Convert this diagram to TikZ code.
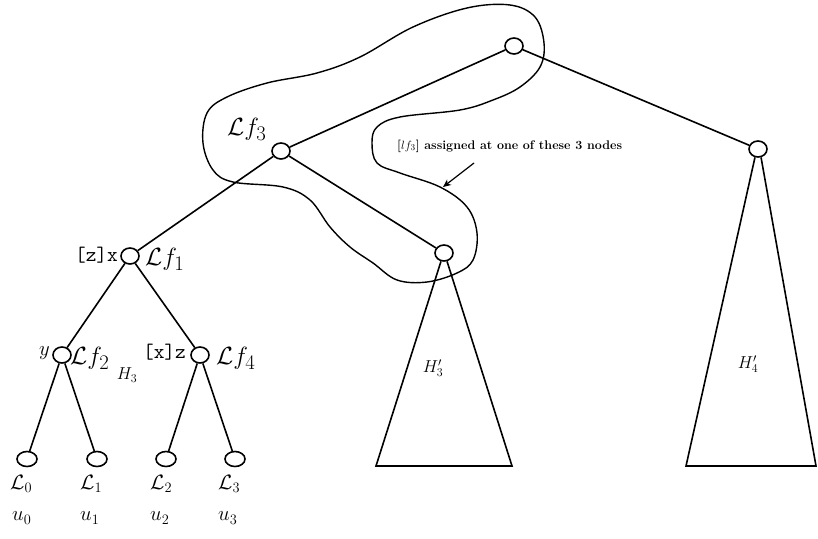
\documentclass[tikz,border=0pt]{standalone}
\usetikzlibrary{shapes.geometric,arrows.meta}
\begin{document}
\begin{tikzpicture}[x=1pt,y=-1pt,
  tn/.style={draw,ellipse,line width=1.6pt,minimum width=18pt,minimum height=16pt,inner sep=0pt},
  lf/.style={draw,ellipse,line width=1.6pt,minimum width=20pt,minimum height=15pt,inner sep=0pt},
  edge/.style={line width=1.6pt},
  lab/.style={font=\Huge,inner sep=0pt},
  sl/.style={font=\huge,inner sep=0pt},
  tl/.style={font=\huge\ttfamily,inner sep=0pt}]
\useasboundingbox (0,0) rectangle (818,538);
% nodes
\node[tn] (r) at (514,46) {};
\node[tn] (a) at (281,151) {};
\node[tn] (b) at (758,149) {};
\node[tn] (c) at (444,253) {};
\node[tn] (d) at (130,256) {};
\node[tn] (e) at (62,355) {};
\node[tn] (f) at (200,355) {};
\node[lf] (l0) at (27,459) {};
\node[lf] (l1) at (97,459) {};
\node[lf] (l2) at (166,459) {};
\node[lf] (l3) at (235,459) {};
% edges
\draw[edge] (r) -- (a);
\draw[edge] (r) -- (b);
\draw[edge] (a) -- (d);
\draw[edge] (a) -- (c);
\draw[edge] (d) -- (e);
\draw[edge] (d) -- (f);
\draw[edge] (e) -- (l0);
\draw[edge] (e) -- (l1);
\draw[edge] (f) -- (l2);
\draw[edge] (f) -- (l3);
% triangles
\coordinate (t3l) at (376,466);
\coordinate (t3r) at (512,466);
\coordinate (t4l) at (686,466);
\coordinate (t4r) at (816,466);
\draw[edge] (c.250) -- (t3l) -- (t3r) -- (c.290);
\draw[edge] (b.250) -- (t4l) -- (t4r) -- (b.290);
% lasso
\draw[line width=1.4pt] plot[smooth cycle, tension=0.6] coordinates {
 (535,17) (544,43) (540,67) (520,87) (493,100) (460,110) (400,117)
 (377,127) (372,143) (377,163) (400,173) (440,187) (467,207) (477,233)
 (473,260) (457,273) (427,282) (397,280) (373,263) (350,247) (330,227)
 (310,200) (283,187) (233,182) (213,170) (203,143) (207,113) (227,97)
 (267,83) (317,73) (360,57) (413,27) (467,8) (510,5)};
% annotation
\node[font=\fontsize{12.5}{14}\selectfont\bfseries,anchor=west,inner sep=0pt] (note) at (397,146)
  {[$lf_3$] assigned at one of these 3 nodes};
\coordinate (nt) at (474,163);
\coordinate (np) at (443,187);
\draw[line width=1.2pt,-{Stealth[length=8pt,width=7pt]}] (nt) -- (np);
% labels
\node[lab,anchor=west] (la) at (227,129) {$\mathcal{L}f_3$};
\node[tl,anchor=east] (lx) at (118,255) {[z]x};
\node[lab,anchor=west] (ld) at (145,259) {$\mathcal{L}f_1$};
\node[sl,anchor=east] (ly) at (50,353) {$y$};
\node[lab,anchor=west] (le) at (70,358) {$\mathcal{L}f_2$};
\node[tl,anchor=east] (lz) at (186,352) {[x]z};
\node[lab,anchor=west] (lff) at (216,358) {$\mathcal{L}f_4$};
\node[font=\LARGE,inner sep=0pt] (h3) at (127,375) {$H_3$};
\node[font=\LARGE,inner sep=0pt] (h3p) at (433,368) {$H_3'$};
\node[font=\LARGE,inner sep=0pt] (h4p) at (748,364) {$H_4'$};
\node[sl,anchor=west] (m0) at (10,484) {$\mathcal{L}_0$};
\node[sl,anchor=west] (m1) at (80,484) {$\mathcal{L}_1$};
\node[sl,anchor=west] (m2) at (150,484) {$\mathcal{L}_2$};
\node[sl,anchor=west] (m3) at (218,484) {$\mathcal{L}_3$};
\node[sl,anchor=west] (u0) at (12,518) {$u_0$};
\node[sl,anchor=west] (u1) at (80,518) {$u_1$};
\node[sl,anchor=west] (u2) at (150,518) {$u_2$};
\node[sl,anchor=west] (u3) at (218,518) {$u_3$};
\end{tikzpicture}
\end{document}
